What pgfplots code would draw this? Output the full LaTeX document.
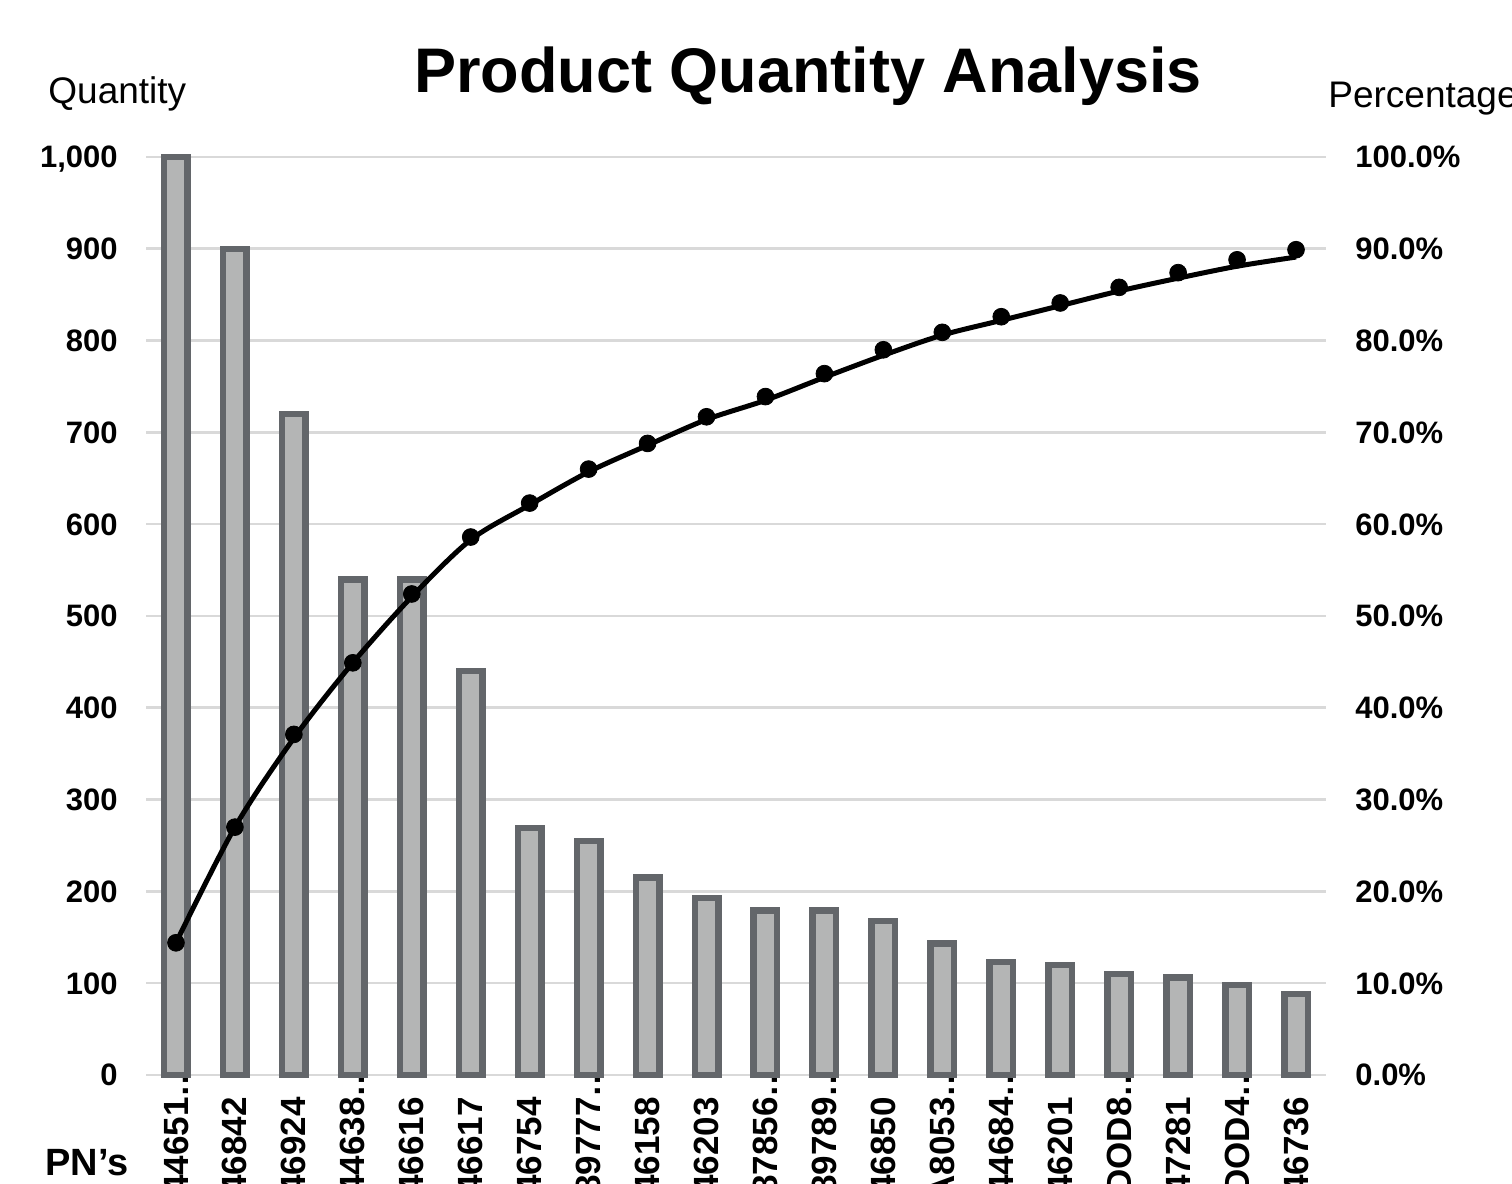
\documentclass[border=0pt]{standalone}
\usepackage{fontspec}
\setmainfont{Liberation Sans}
\usepackage{pgfplots}
\pgfplotsset{compat=1.18}
\definecolor{barfill}{RGB}{180,181,181}
\definecolor{barline}{RGB}{99,102,106}
\definecolor{gridc}{RGB}{217,217,217}
\begin{document}
\begin{tikzpicture}
\begin{axis}[
  at={(0pt,0pt)}, anchor=south west,
  scale only axis, width=589.5pt, height=459pt,
  xmin=-0.5, xmax=19.5, ymin=0, ymax=1000,
  clip=false,
  axis x line*=bottom, axis y line*=left,
  axis line style={draw=none},
  major tick length=0pt,
  ymajorgrids, grid style={gridc, line width=1.3pt},
  ytick={0,100,...,1000},
  yticklabels={0,100,200,300,400,500,600,700,800,900,{1,000}},
  yticklabel style={font=\fontsize{15.5}{16}\selectfont\bfseries, anchor=east, inner sep=0pt, text depth=0pt, xshift=-14.25pt},
  xtick={0,...,19},
  xticklabels={44651\rlap{…},46842,46924,44638\rlap{…},46616,46617,46754,89777\rlap{…},46158,46203,87856\rlap{…},89789\rlap{…},46850,A8053\rlap{…},44684\rlap{…},46201,DOD8\rlap{…},47281,DOD4\rlap{…},46736},
  xticklabel style={yshift=-11pt, rotate=90, anchor=east, inner sep=0pt, font=\fontsize{17.5}{18}\selectfont\bfseries},
]
\addplot[ybar, bar width=11.75pt, fill=barfill, draw=barline, line width=3.25pt] coordinates {
(0,1000) (1,900) (2,720) (3,540) (4,540) (5,440) (6,269) (7,255) (8,215) (9,193)
(10,179) (11,179) (12,168) (13,143) (14,123) (15,120) (16,110) (17,106) (18,98) (19,88)};
\end{axis}
\begin{axis}[
  at={(0pt,0pt)}, anchor=south west,
  scale only axis, width=589.5pt, height=459pt,
  xmin=-0.5, xmax=19.5, ymin=0, ymax=100,
  axis y line*=right, axis x line=none,
  axis line style={draw=none},
  major tick length=0pt,
  ytick={0,10,...,100},
  yticklabels={0.0\%,10.0\%,20.0\%,30.0\%,40.0\%,50.0\%,60.0\%,70.0\%,80.0\%,90.0\%,100.0\%},
  yticklabel style={font=\fontsize{15.5}{16}\selectfont\bfseries, anchor=west, inner sep=0pt, text depth=0pt, xshift=14.75pt},
]
\addplot[black, line width=2.5pt, smooth] coordinates {
(0,14.4) (1,27.0) (2,36.7) (3,44.9) (4,52.1) (5,58.3) (6,62.1) (7,65.7) (8,68.6) (9,71.4)
(10,73.5) (11,76.0) (12,78.4) (13,80.6) (14,82.2) (15,83.8) (16,85.4) (17,86.8) (18,88.1) (19,89.1)};
\addplot[only marks, mark=*, mark size=4.2pt, black] coordinates {
(0,14.4) (1,27.0) (2,37.1) (3,44.9) (4,52.4) (5,58.6) (6,62.3) (7,66.0) (8,68.8) (9,71.7)
(10,73.9) (11,76.4) (12,79.0) (13,80.9) (14,82.6) (15,84.1) (16,85.8) (17,87.4) (18,88.8) (19,89.9)};
\end{axis}
\node[anchor=base, inner sep=0pt, font=\fontsize{31.5}{32}\selectfont\bfseries] at (330.75pt,491pt) {Product Quantity Analysis};
\node[anchor=base west, inner sep=0pt, font=\fontsize{18.5}{19}\selectfont] at (-49.25pt,485.5pt) {Quantity};
\node[anchor=base west, inner sep=0pt, font=\fontsize{18.5}{19}\selectfont] at (590.75pt,483.5pt) {Percentage};
\node[anchor=base west, inner sep=0pt, font=\fontsize{19}{20}\selectfont\bfseries] at (-50.75pt,-50.5pt) {PN\symbol{39}s};
\pgfresetboundingbox
\useasboundingbox (-73.25pt,-54.5pt) rectangle (682.75pt,537.5pt);
\end{tikzpicture}
\end{document}
